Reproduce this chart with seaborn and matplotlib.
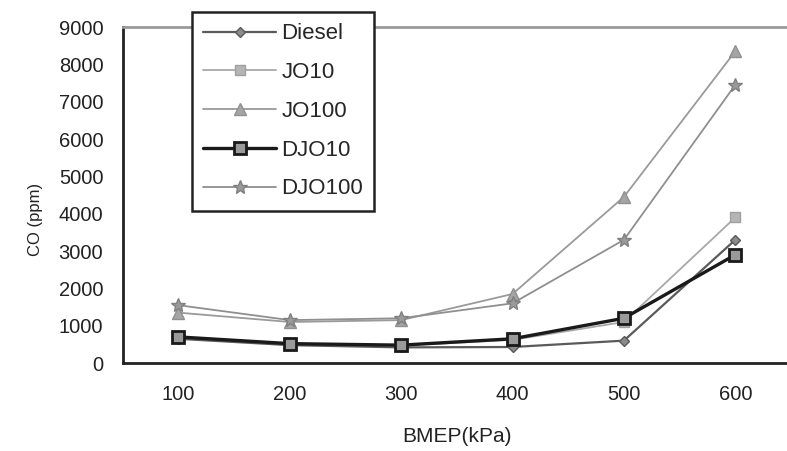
import matplotlib
matplotlib.use("Agg")
import matplotlib.pyplot as plt
import seaborn as sns
import pandas as pd

# BMEP load points (kPa) and CO emissions (ppm) for each fuel
bmep = [100, 200, 300, 400, 500, 600]
diesel = [650, 480, 420, 430, 600, 3300]
jo10 = [700, 520, 470, 620, 1100, 3900]
jo100 = [1350, 1100, 1150, 1850, 4450, 8350]
djo10 = [700, 520, 480, 650, 1200, 2900]
djo100 = [1550, 1150, 1200, 1600, 3300, 7450]

series = {"Diesel": diesel, "JO10": jo10, "JO100": jo100,
          "DJO10": djo10, "DJO100": djo100}
df = pd.concat([pd.DataFrame({"BMEP": bmep, "CO": v, "fuel": k})
                for k, v in series.items()], ignore_index=True)

sns.set_theme(style="white")
plt.rcParams["font.family"] = ["Liberation Sans", "DejaVu Sans"]

styles = {
    "Diesel": dict(color="#5a5a5a", marker="D", ms=5, lw=1.6, mfc="#8a8a8a", mec="#5a5a5a"),
    "JO10": dict(color="#a8a8a8", marker="s", ms=7, lw=1.3, mfc="#b5b5b5", mec="#a0a0a0"),
    "JO100": dict(color="#9a9a9a", marker="^", ms=8, lw=1.3, mfc="#a5a5a5", mec="#909090"),
    "DJO10": dict(color="#1a1a1a", marker="s", ms=8, lw=2.4, mfc="#9a9a9a", mec="#1a1a1a", mew=2),
    "DJO100": dict(color="#8f8f8f", marker="*", ms=10, lw=1.3, mfc="#9a9a9a", mec="#808080"),
}

fig = plt.figure(figsize=(7.87, 4.51), dpi=100)
ax = fig.add_axes([0.156, 0.195, 0.849, 0.745])

for name in series:
    st = dict(styles[name])
    sub = df[df["fuel"] == name]
    sns.lineplot(data=sub, x="BMEP", y="CO", ax=ax, label=name,
                 color=st.pop("color"), marker=st.pop("marker"),
                 markersize=st.pop("ms"), linewidth=st.pop("lw"),
                 markerfacecolor=st.pop("mfc"), markeredgecolor=st.pop("mec"),
                 markeredgewidth=st.pop("mew", 1.0))

ax.set_xlim(50, 650)
ax.set_ylim(0, 9000)
ax.set_xticks(bmep)
ax.set_xticklabels([str(b) for b in bmep])
ax.set_xticks([50, 150, 250, 350, 450, 550, 650], minor=True)
ax.set_yticks(range(0, 9001, 1000))
ax.tick_params(axis="x", which="major", length=0, pad=16, labelsize=14.5, colors="#222222")
ax.tick_params(axis="x", which="minor", length=5, width=1.2, direction="out", color="#333333")
ax.tick_params(axis="y", which="major", length=6, width=1.5, direction="out",
               color="#222222", labelsize=14.5, labelcolor="#222222", pad=8)

for s in ["left", "bottom"]:
    ax.spines[s].set_color("#222222")
    ax.spines[s].set_linewidth(2)
ax.spines["top"].set_color("#9a9a9a")
ax.spines["top"].set_linewidth(2)
ax.spines["right"].set_visible(False)

ax.set_xlabel("BMEP(kPa)", fontsize=15, color="#222222")
ax.xaxis.set_label_coords(0.5, -0.19)
ax.set_ylabel("CO (ppm)", fontsize=12, color="#222222")
ax.yaxis.set_label_coords(-0.12, 0.426)

handles, labels = ax.get_legend_handles_labels()
if ax.legend_:
    ax.legend_.remove()
leg = fig.legend(handles, labels, loc="upper left", bbox_to_anchor=(0.244, 0.973),
                 frameon=True, fancybox=False, fontsize=16, labelspacing=0.8,
                 handlelength=3.3, handletextpad=0.22, borderpad=0.5,
                 borderaxespad=0)
leg.get_frame().set_edgecolor("#222222")
leg.get_frame().set_linewidth(1.8)
leg.get_frame().set_facecolor("white")
leg.get_frame().set_alpha(1)

fig.savefig("out.png", dpi=100)
